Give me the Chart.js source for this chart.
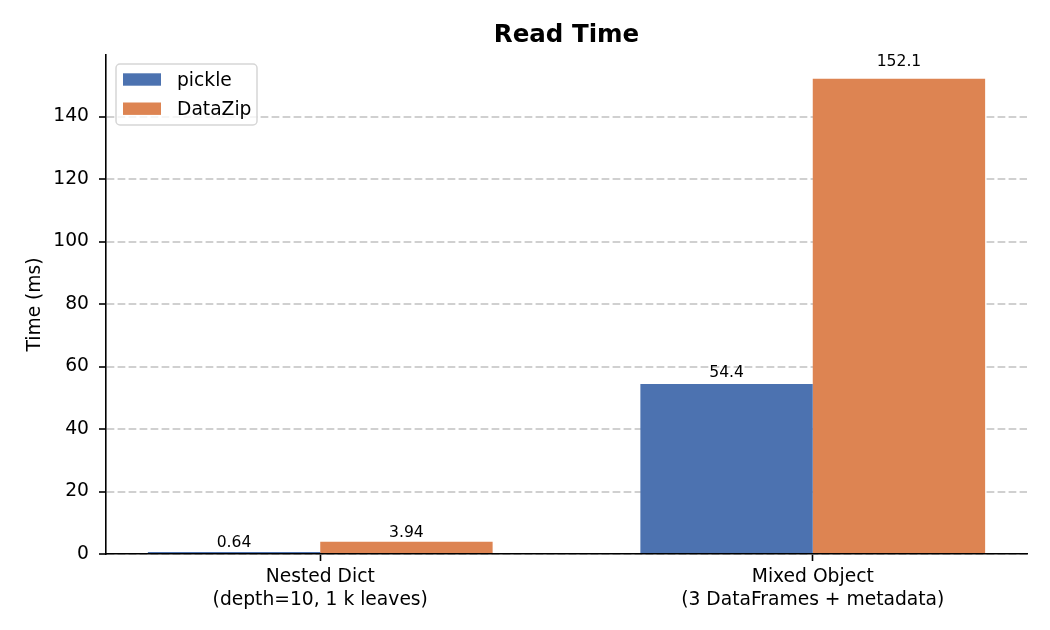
<!DOCTYPE html>
<html>
<head>
<meta charset="utf-8">
<script src="https://cdn.jsdelivr.net/npm/chart.js@4.4.1/dist/chart.umd.min.js"></script>
<style>
  html, body { margin: 0; padding: 0; background: #fff; }
  #wrap { width: 1050px; height: 630px; }
</style>
</head>
<body>
<div id="wrap"><canvas id="chart" width="1050" height="630"></canvas></div>
<script>
// ── DATA ──────────────────────────────────────────────────────────────────────
const categories  = ['Nested Dict\n(depth=10, 1 k leaves)', 'Mixed Object\n(3 DataFrames + metadata)'];
const seriesNames = ['pickle', 'DataZip'];
const pickleMs    = [0.64, 54.4];
const dataZipMs   = [3.94, 152.1];
const yTicks      = [0, 20, 40, 60, 80, 100, 120, 140];

const COLORS = ['#4c72b0', '#dd8452'];
const FONT   = "'DejaVu Sans', sans-serif";

const fmt = v => v < 10 ? v.toFixed(2) : v.toFixed(1);

function roundRect(ctx, x, y, w, h, r) {
  ctx.beginPath();
  ctx.moveTo(x + r, y);
  ctx.lineTo(x + w - r, y);
  ctx.arcTo(x + w, y, x + w, y + r, r);
  ctx.lineTo(x + w, y + h - r);
  ctx.arcTo(x + w, y + h, x + w - r, y + h, r);
  ctx.lineTo(x + r, y + h);
  ctx.arcTo(x, y + h, x, y + h - r, r);
  ctx.lineTo(x, y + r);
  ctx.arcTo(x, y, x + r, y, r);
  ctx.closePath();
}

// ── DECOR: bar labels, title, y title, legend ─────────────────────────────────
const decorPlugin = {
  id: 'decor',
  afterDatasetsDraw(chart) {
    const { ctx, chartArea: a } = chart;
    const yScale = chart.scales.y;
    ctx.save();

    // value labels over bars (offset grows a little with the value)
    ctx.font = `15.6px ${FONT}`;
    ctx.fillStyle = '#000';
    ctx.textAlign = 'center';
    ctx.textBaseline = 'alphabetic';
    chart.data.datasets.forEach((ds, i) => {
      chart.getDatasetMeta(i).data.forEach((bar, j) => {
        const v = ds.data[j].y;
        ctx.fillText(fmt(v), bar.x, yScale.getPixelForValue(v * 1.0167 + 1.45));
      });
    });

    // title
    ctx.font = `bold 24.5px ${FONT}`;
    ctx.fillText('Read Time', (a.left + a.right) / 2, 42);

    // y axis title
    ctx.save();
    ctx.translate(39.5, (a.top + a.bottom) / 2);
    ctx.rotate(-Math.PI / 2);
    ctx.font = `18.7px ${FONT}`;
    ctx.fillText('Time (ms)', 0, 0);
    ctx.restore();

    // legend
    roundRect(ctx, 116, 64, 141, 61, 4);
    ctx.fillStyle = 'rgba(255,255,255,0.8)';
    ctx.fill();
    ctx.strokeStyle = '#d6d6d6';
    ctx.lineWidth = 1.5;
    ctx.stroke();
    ctx.font = `18.7px ${FONT}`;
    ctx.textAlign = 'left';
    ctx.textBaseline = 'middle';
    seriesNames.forEach((name, i) => {
      const cy = 79.5 + i * 29.2;
      ctx.fillStyle = COLORS[i];
      ctx.fillRect(123, cy - 6.2, 38, 12.4);
      ctx.fillStyle = '#000';
      ctx.fillText(name, 177, cy + 1.5);
    });

    ctx.restore();
  }
};

// ── CHART ─────────────────────────────────────────────────────────────────────
new Chart(document.getElementById('chart'), {
  type: 'bar',
  data: {
    datasets: [
      { label: seriesNames[0], data: pickleMs.map((y, i) => ({ x: i, y })),  backgroundColor: COLORS[0] },
      { label: seriesNames[1], data: dataZipMs.map((y, i) => ({ x: i, y })), backgroundColor: COLORS[1] }
    ]
  },
  options: {
    responsive: false,
    animation: false,
    devicePixelRatio: 1,
    layout: { padding: { top: 55, right: 23, left: 0, bottom: 0 } },
    datasets: { bar: { barPercentage: 1.0, categoryPercentage: 0.7, borderWidth: 0 } },
    plugins: { legend: { display: false }, tooltip: { enabled: false }, title: { display: false } },
    scales: {
      x: {
        type: 'linear',
        offset: false,
        min: -0.435, max: 1.435,
        afterBuildTicks: s => { s.ticks = categories.map((_, i) => ({ value: i })); },
        afterFit: s => { s.height = 76; },
        ticks: {
          callback: v => categories[Math.round(v)].split('\n'),
          font: { family: FONT, size: 18.7, lineHeight: 1.2 },
          color: '#000',
          padding: 5,
          maxRotation: 0, autoSkip: false
        },
        grid: { offset: false, drawOnChartArea: false, tickLength: 7, tickColor: '#000', tickWidth: 1.6, color: 'transparent' },
        border: { color: '#000', width: 1.6 }
      },
      y: {
        min: 0, max: 159.7,
        afterBuildTicks: s => { s.ticks = yTicks.map(v => ({ value: v })); },
        afterFit: s => { s.width = 106; },
        ticks: {
          font: { family: FONT, size: 18.7 },
          color: '#000',
          padding: 10
        },
        grid: {
          color: 'rgba(176,176,176,0.6)', lineWidth: 2,
          tickLength: 7, tickColor: '#000', tickWidth: 1.6, tickBorderDash: []
        },
        border: { color: '#000', width: 1.6, dash: [7.7, 3.3] }
      }
    }
  },
  plugins: [decorPlugin]
});
</script>
</body>
</html>
